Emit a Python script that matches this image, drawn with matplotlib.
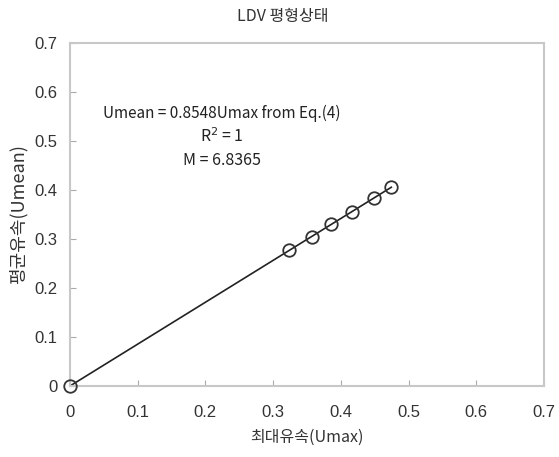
import matplotlib
matplotlib.use("Agg")
import matplotlib.pyplot as plt

plt.rcParams['font.family'] = ['Noto Sans CJK KR', 'DejaVu Sans']

# 측정값 (LDV 평형상태)
umax = [0.0, 0.324, 0.357, 0.386, 0.416, 0.449, 0.4745]
umean = [0.0, 0.277, 0.305, 0.330, 0.356, 0.384, 0.4056]
slope = 0.8548
ticks = [0, 0.1, 0.2, 0.3, 0.4, 0.5, 0.6, 0.7]
tick_labels = ["0", "0.1", "0.2", "0.3", "0.4", "0.5", "0.6", "0.7"]

fig = plt.figure(figsize=(5.59, 4.57), dpi=100)
ax = fig.add_axes([70 / 559, 1 - 386 / 457, 474 / 559, 343 / 457])

fit_x = [0.0, max(umax)]
fit_y = [slope * v for v in fit_x]
ax.plot(fit_x, fit_y, color="#222222", lw=1.2, zorder=2)
ax.plot(umax, umean, "o", ms=9, mfc="none", mec="#333333", mew=1.3, zorder=3, clip_on=False)

ax.set_xlim(0, 0.7)
ax.set_ylim(0, 0.7)
ax.set_xticks(ticks)
ax.set_xticklabels(tick_labels, family="Liberation Sans")
ax.set_yticks(ticks)
ax.set_yticklabels(tick_labels, family="Liberation Sans")
ax.tick_params(direction="in", length=4, color="#aaaaaa", labelsize=12, labelcolor="#333333")
ax.tick_params(axis="x", pad=14)
ax.tick_params(axis="y", pad=9)
for s in ax.spines.values():
    s.set_color("#c8c8c8")
    s.set_linewidth(1.5)

ax.set_xlabel("최대유속(Umax)", fontsize=11.5, color="#333333", labelpad=6)
ax.set_ylabel("평균유속(Umean)", fontsize=13, color="#333333", labelpad=5)
fig.text(283 / 559, 1 - 17 / 457, "LDV 평형상태", ha="center", va="center", fontsize=11.5, color="#333333")

ax.text(0.224, 0.557, "Umean = 0.8548Umax from Eq.(4)", ha="center", va="center", fontsize=11, color="#222222")
ax.text(0.224, 0.508, "R$^2$ = 1", ha="center", va="center", fontsize=11.5, color="#222222")
ax.text(0.224, 0.461, "M = 6.8365", ha="center", va="center", fontsize=11.5, color="#222222")

fig.savefig("out.png", dpi=100)
